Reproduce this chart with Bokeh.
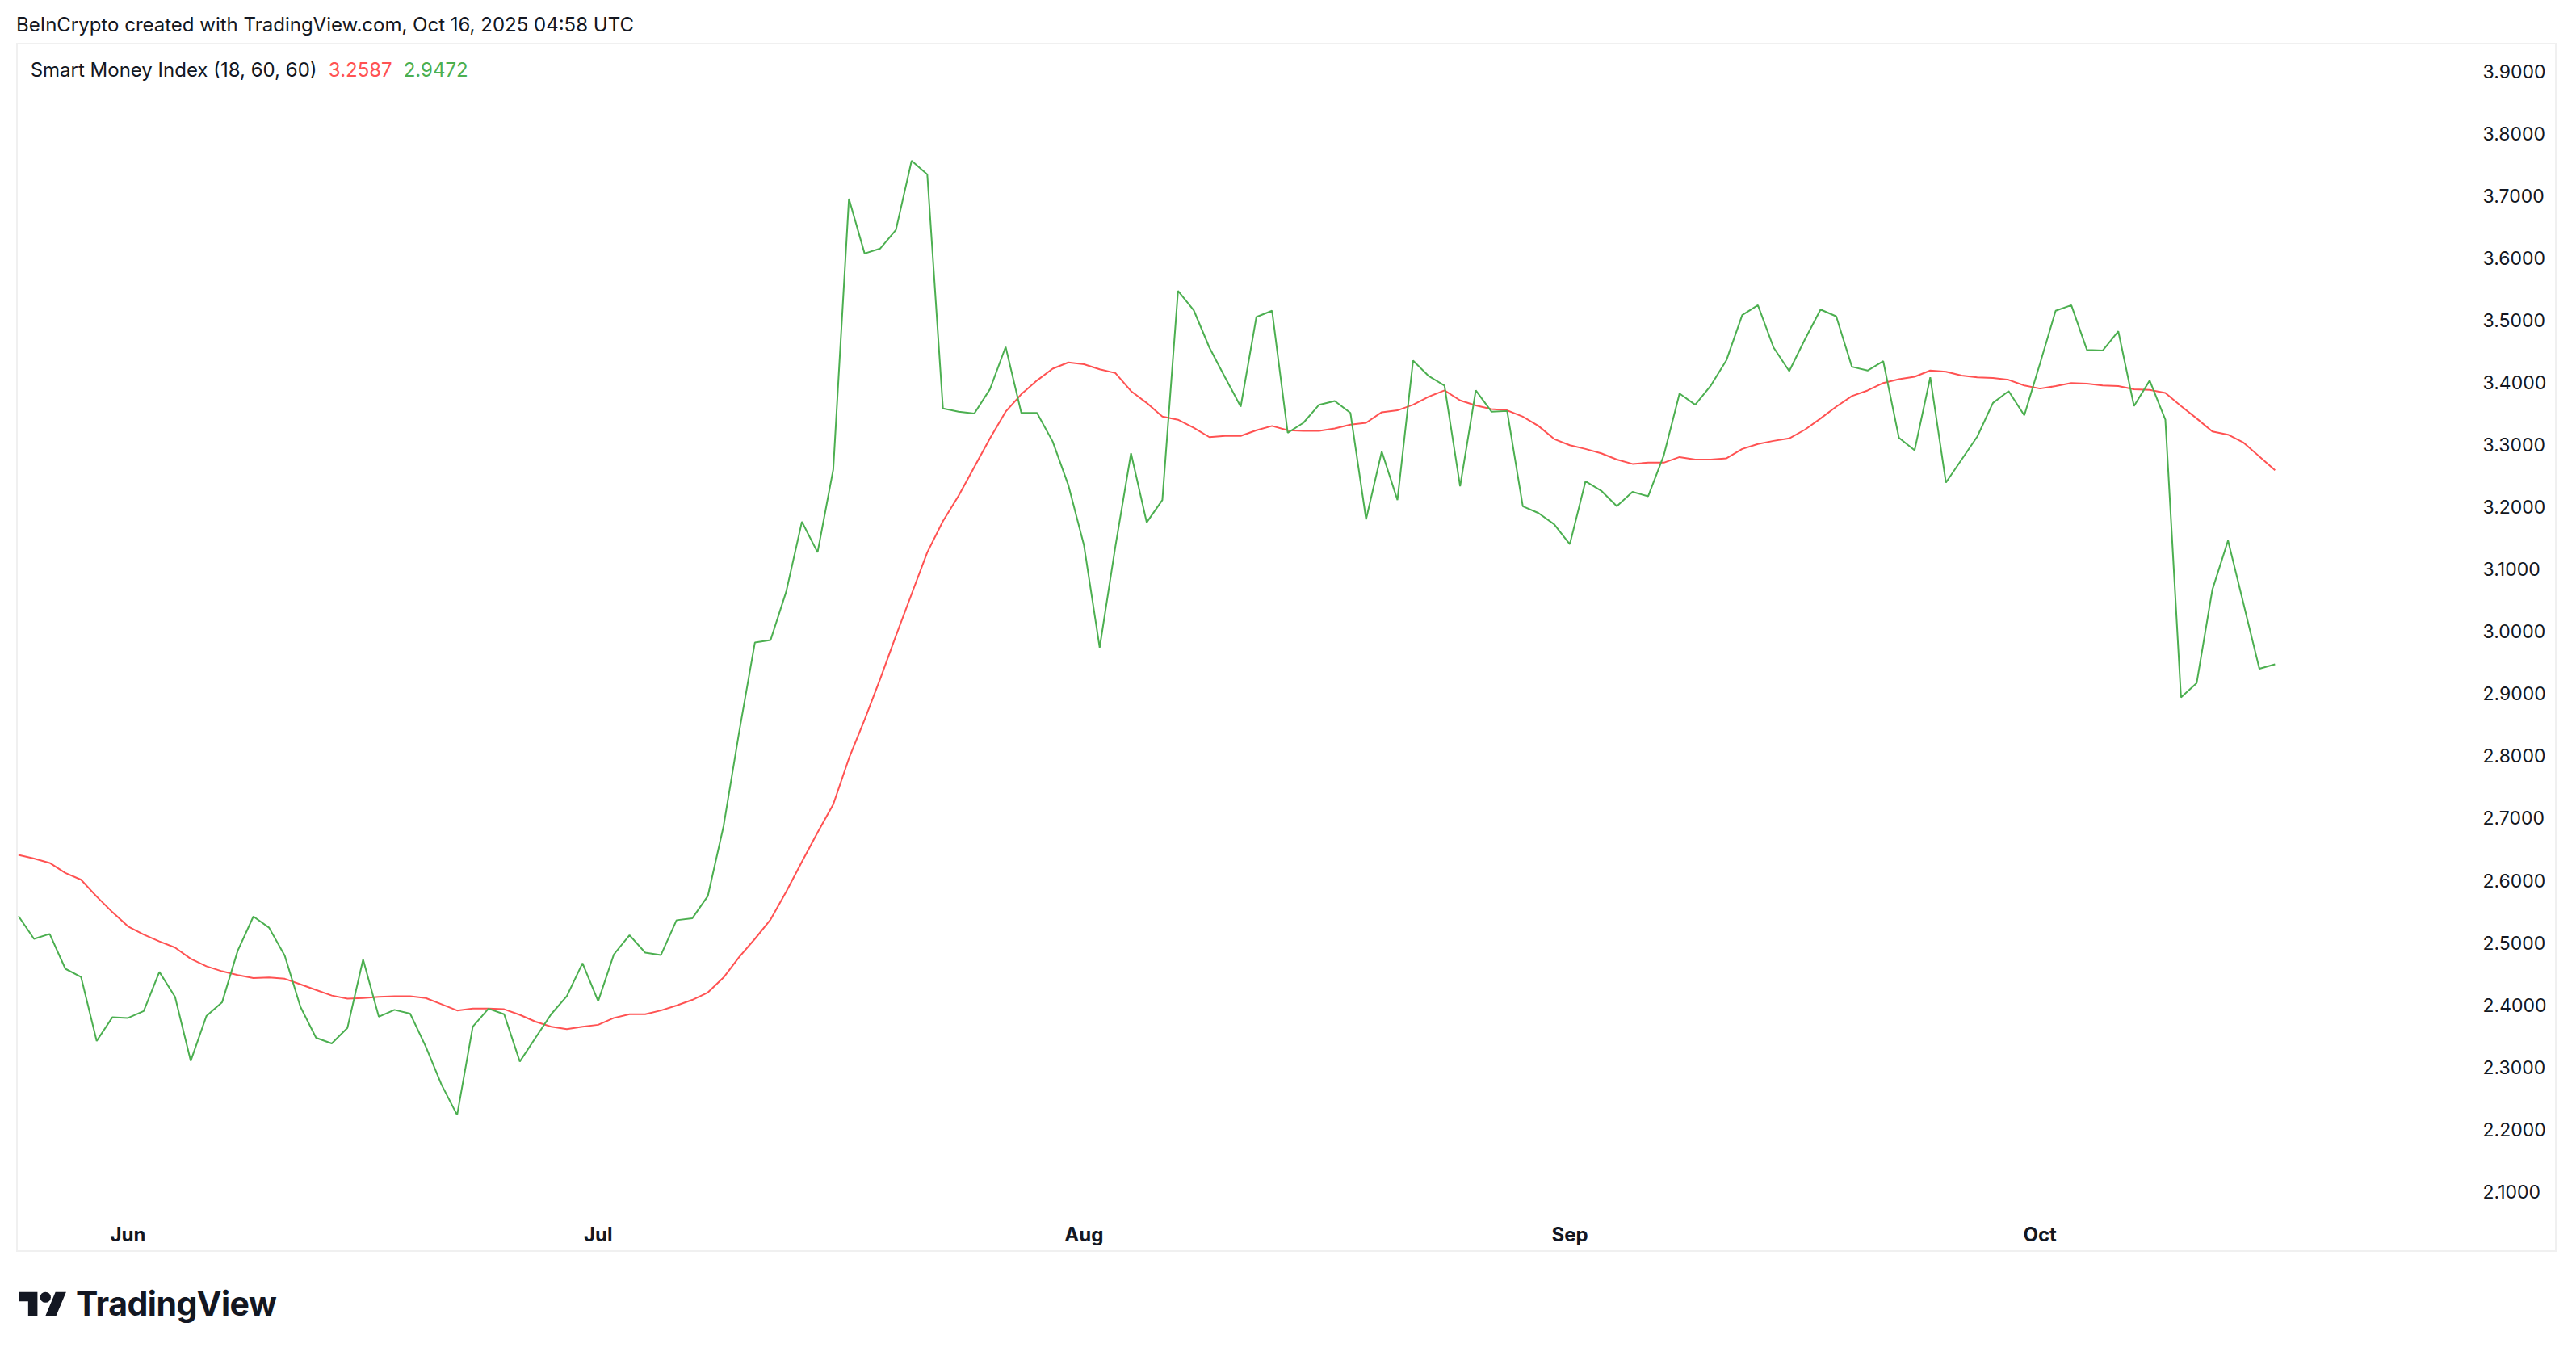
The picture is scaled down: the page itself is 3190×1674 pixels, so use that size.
import pandas as pd
from bokeh.plotting import figure
from bokeh.models import (Range1d, FixedTicker, DatetimeTickFormatter,
                          PrintfTickFormatter, Label, Div)
from bokeh.layouts import column
from bokeh.embed import file_html
from bokeh.resources import INLINE

# ---------------- data ----------------
first_day = "2025-05-25"
last_day = "2025-10-16"
dates = pd.date_range(first_day, last_day, freq="D")

smi = [
    2.543, 2.506, 2.514, 2.458, 2.445, 2.342, 2.380, 2.379, 2.390, 2.453,
    2.413, 2.310, 2.382, 2.404, 2.487, 2.542, 2.524, 2.479, 2.397, 2.347,
    2.338, 2.363, 2.473, 2.381, 2.392, 2.386, 2.333, 2.272, 2.223, 2.365,
    2.394, 2.385, 2.309, 2.347, 2.385, 2.414, 2.467, 2.406, 2.481, 2.512,
    2.484, 2.480, 2.536, 2.539, 2.575, 2.687, 2.839, 2.982, 2.986, 3.064,
    3.176, 3.127, 3.260, 3.695, 3.607, 3.615, 3.645, 3.756, 3.734, 3.358,
    3.353, 3.350, 3.389, 3.457, 3.351, 3.351, 3.305, 3.235, 3.138, 2.974,
    3.136, 3.286, 3.175, 3.211, 3.547, 3.516, 3.456, 3.408, 3.361, 3.505,
    3.515, 3.319, 3.335, 3.364, 3.370, 3.351, 3.180, 3.289, 3.211, 3.435,
    3.410, 3.395, 3.233, 3.387, 3.353, 3.354, 3.201, 3.190, 3.172, 3.140,
    3.241, 3.226, 3.201, 3.224, 3.217, 3.283, 3.382, 3.364, 3.395, 3.436,
    3.508, 3.524, 3.456, 3.418, 3.469, 3.517, 3.506, 3.425, 3.419, 3.434,
    3.311, 3.291, 3.408, 3.239, 3.276, 3.313, 3.367, 3.386, 3.347, 3.430,
    3.515, 3.524, 3.452, 3.451, 3.482, 3.362, 3.403, 3.340, 2.894, 2.917,
    3.067, 3.146, 3.043, 2.940, 2.9472,
]

signal = [
    2.641, 2.635, 2.628, 2.612, 2.601, 2.574, 2.549, 2.526, 2.513, 2.502,
    2.492, 2.474, 2.462, 2.454, 2.448, 2.443, 2.444, 2.442, 2.433, 2.424,
    2.415, 2.410, 2.411, 2.413, 2.414, 2.414, 2.411, 2.401, 2.391, 2.394,
    2.394, 2.393, 2.384, 2.373, 2.365, 2.361, 2.365, 2.368, 2.379, 2.385,
    2.385, 2.391, 2.399, 2.408, 2.420, 2.444, 2.477, 2.506, 2.537, 2.582,
    2.630, 2.677, 2.722, 2.796, 2.858, 2.924, 2.993, 3.060, 3.127, 3.177,
    3.218, 3.264, 3.310, 3.353, 3.381, 3.403, 3.422, 3.432, 3.429, 3.421,
    3.415, 3.386, 3.367, 3.345, 3.340, 3.327, 3.312, 3.314, 3.314, 3.323,
    3.330, 3.323, 3.322, 3.322, 3.326, 3.332, 3.335, 3.352, 3.355, 3.364,
    3.377, 3.387, 3.371, 3.363, 3.357, 3.355, 3.345, 3.330, 3.309, 3.299,
    3.293, 3.286, 3.276, 3.269, 3.271, 3.271, 3.280, 3.276, 3.276, 3.278,
    3.293, 3.301, 3.306, 3.310, 3.324, 3.342, 3.361, 3.378, 3.387, 3.399,
    3.405, 3.409, 3.419, 3.417, 3.411, 3.408, 3.407, 3.404, 3.395, 3.390,
    3.394, 3.399, 3.398, 3.395, 3.394, 3.389, 3.388, 3.383, 3.362, 3.342,
    3.321, 3.316, 3.303, 3.281, 3.2587,
]

price_ticks = [2.1, 2.2, 2.3, 2.4, 2.5, 2.6, 2.7, 2.8, 2.9, 3.0,
               3.1, 3.2, 3.3, 3.4, 3.5, 3.6, 3.7, 3.8, 3.9]
month_ticks = ["2025-06-01", "2025-07-01", "2025-08-01", "2025-09-01", "2025-10-01"]

header_text = "BeInCrypto created with TradingView.com, Oct 16, 2025 04:58 UTC"
indicator_name = "Smart Money Index (18, 60, 60)"
signal_last = "3.2587"
smi_last = "2.9472"

GREEN = "#4CAF50"
RED = "#FF5252"
INK = "#131722"
FONT = "Inter"

DAY = 86400000.0
t0 = pd.Timestamp(first_day).value / 1e6
def ms(ts):
    return pd.Timestamp(ts).value / 1e6

# ---------------- figure ----------------
x_range = Range1d(t0 - 0.01 * DAY, t0 + 155.5 * DAY)
y_range = Range1d(2.0610, 3.9422)

p = figure(width=3146, height=1497, x_axis_type="datetime",
           y_axis_location="right", x_range=x_range, y_range=y_range,
           output_backend="svg", toolbar_location=None,
           min_border_left=0, min_border_top=0,
           min_border_right=128, min_border_bottom=47,
           margin=(0, 0, 0, 20),
           styles={"border": "2px solid #F0F0F0"})
p.outline_line_color = None
p.xgrid.grid_line_color = None
p.ygrid.grid_line_color = None
p.background_fill_color = "white"
p.border_fill_color = "white"

p.line(dates, signal, line_color=RED, line_width=2)
p.line(dates, smi, line_color=GREEN, line_width=2)

ya = p.yaxis[0]
ya.ticker = FixedTicker(ticks=price_ticks)
ya.formatter = PrintfTickFormatter(format="%.4f")
ya.axis_line_color = None
ya.major_tick_line_color = None
ya.minor_tick_line_color = None
ya.major_label_standoff = 28
ya.major_label_text_font = FONT
ya.major_label_text_font_size = "23px"
ya.major_label_text_color = INK

xa = p.xaxis[0]
xa.ticker = FixedTicker(ticks=[ms(m) for m in month_ticks])
xa.formatter = DatetimeTickFormatter(days="%b", months="%b", years="%b",
                                     hours="%b", minutes="%b", seconds="%b",
                                     milliseconds="%b")
xa.axis_line_color = None
xa.major_tick_line_color = None
xa.minor_tick_line_color = None
xa.major_label_standoff = 2
xa.major_label_text_font = FONT
xa.major_label_text_font_style = "bold"
xa.major_label_text_font_size = "24px"
xa.major_label_text_color = INK

# legend texts (pane header)
def day_x(px):
    return t0 + (px - 22) / 19.45 * DAY

legend_y = 3.902
for txt, px, col in [(indicator_name, 37, INK), (signal_last, 407, RED), (smi_last, 500, GREEN)]:
    p.add_layout(Label(x=day_x(px), y=legend_y, text=txt, text_color=col,
                       text_font=FONT, text_font_size="24px",
                       text_baseline="middle", text_align="left"))

header = Div(text=header_text, width=3000, height=45, margin=(8, 0, 0, 20),
             styles={"font-family": FONT, "font-size": "24px", "color": INK,
                     "line-height": "46px", "white-space": "nowrap"})

logo_html = (
    '<div style="display:flex;align-items:center;margin-top:35px;">'
    '<svg width="66" height="33" viewBox="0 3 36 20" style="margin-right:8px">'
    '<path fill="#131722" d="M14 22H7V11H0V4h14v18zM28 22h-8l7.5-18h8L28 22z"/>'
    '<circle fill="#131722" cx="20" cy="8" r="4"/></svg>'
    '<span style="font-family:Inter;font-weight:700;font-size:41px;'
    'letter-spacing:-0.5px;color:#131722;">TradingView</span></div>'
)
logo = Div(text=logo_html, width=600, height=100, margin=(0, 0, 0, 20))

layout = column(header, p, logo, spacing=0)

with open("out.html", "w") as f:
    f.write(file_html(layout, INLINE))
